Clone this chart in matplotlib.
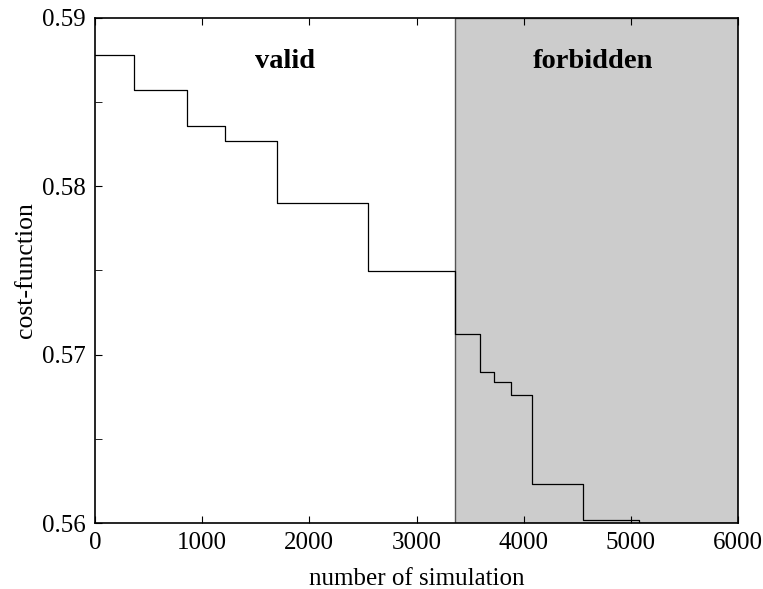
import matplotlib
matplotlib.use("Agg")
import matplotlib.pyplot as plt
from matplotlib.ticker import MultipleLocator

plt.rcParams['font.family'] = ['Liberation Serif', 'DejaVu Serif']

# step positions (number of simulation) and cost-function values
n_sim = [0, 362, 863, 1209, 1701, 2551, 3361, 3589, 3723, 3882, 4081, 4555, 5078, 6000]
cost = [0.5878, 0.5857, 0.5836, 0.5827, 0.5790, 0.5750, 0.5712, 0.5690, 0.5684, 0.5676,
        0.5623, 0.5602, 0.5600, 0.5600]

forbidden_start = 3361

fig = plt.figure(figsize=(7.63, 5.89), dpi=100)
ax = fig.add_axes([95/763, 66/589, 643/763, 505/589])

ax.axvspan(forbidden_start, 6000, facecolor='#cccccc', edgecolor='#555555', lw=1, zorder=0)
ax.step(n_sim, cost, where='post', color='black', lw=0.9, zorder=2)

ax.text(1770, 0.5874, 'valid', fontsize=20.5, fontweight='bold', ha='center', va='center')
ax.text(4650, 0.5874, 'forbidden', fontsize=20.5, fontweight='bold', ha='center', va='center')

ax.set_xlim(0, 6000)
ax.set_ylim(0.56, 0.59)
ax.xaxis.set_major_locator(MultipleLocator(1000))
ax.yaxis.set_major_locator(MultipleLocator(0.01))
ax.yaxis.set_minor_locator(MultipleLocator(0.005))
ax.tick_params(which='both', direction='in', top=True, right=False, labelsize=18)
ax.tick_params(which='both', length=5)
ax.tick_params(axis='x', pad=6.5)
ax.tick_params(axis='y', pad=7)
for s in ax.spines.values():
    s.set_linewidth(1.2)

ax.set_xlabel('number of simulation', fontsize=18, labelpad=10)
ax.set_ylabel('cost-function', fontsize=18.5, labelpad=3)

fig.savefig('out.png', dpi=100)
